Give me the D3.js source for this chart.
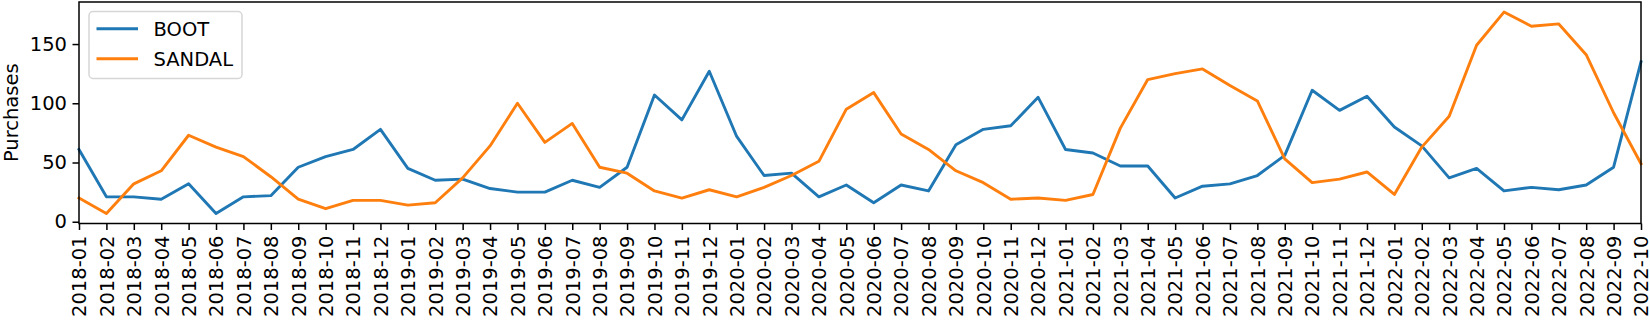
<!DOCTYPE html>
<html>
<head>
<meta charset="utf-8">
<script src="https://cdn.jsdelivr.net/npm/d3@7"></script>
<style>
  body { margin: 0; background: #fff; }
  svg { display: block; font-family: "DejaVu Sans", sans-serif; }
</style>
</head>
<body>
<div id="chart"></div>
<script>
// ====== Monthly purchases: BOOT vs SANDAL ======

const months = [
  '2018-01','2018-02','2018-03','2018-04','2018-05','2018-06','2018-07','2018-08','2018-09','2018-10','2018-11','2018-12',
  '2019-01','2019-02','2019-03','2019-04','2019-05','2019-06','2019-07','2019-08','2019-09','2019-10','2019-11','2019-12',
  '2020-01','2020-02','2020-03','2020-04','2020-05','2020-06','2020-07','2020-08','2020-09','2020-10','2020-11','2020-12',
  '2021-01','2021-02','2021-03','2021-04','2021-05','2021-06','2021-07','2021-08','2021-09','2021-10','2021-11','2021-12',
  '2022-01','2022-02','2022-03','2022-04','2022-05','2022-06','2022-07','2022-08','2022-09','2022-10'
];

const boot = [
  61, 21, 21, 19, 32, 7, 21, 22, 46, 55, 61, 78,
  45, 35, 36, 28, 25, 25, 35, 29, 46, 107, 86, 127,
  72, 39, 41, 21, 31, 16, 31, 26, 65, 78, 81, 105,
  61, 58, 47, 47, 20, 30, 32, 39, 56, 111, 94, 106,
  80, 64, 37, 45, 26, 29, 27, 31, 46, 135
];

const sandal = [
  20, 7, 32, 43, 73, 63, 55, 38, 19, 11, 18, 18,
  14, 16, 37, 64, 100, 67, 83, 46, 41, 26, 20, 27,
  21, 29, 39, 51, 95, 109, 74, 61, 43, 33, 19, 20,
  18, 23, 79, 120, 125, 129, 115, 102, 53, 33, 36, 42,
  23, 63, 89, 149, 177, 165, 167, 141, 92, 49
];

const yTicks = [0, 50, 100, 150];

const seriesNames = ['BOOT', 'SANDAL'];
const colors = ['#1f77b4', '#ff7f0e'];

let width = 1650,
    height = 323,
    margin = {top: 2, right: 9, bottom: 99.5, left: 79},
    fontSize = 19.5;

let series = [boot, sandal];

// Same padding rule matplotlib uses: 5% of the data range
let lo = d3.min(series, s => d3.min(s)),
    hi = d3.max(series, s => d3.max(s)),
    pad = (hi - lo) * 0.05;

let svg = d3.select('#chart').append('svg')
    .attr('width', width)
    .attr('height', height);

let x = d3.scalePoint()
    .domain(months)
    .range([margin.left, width - margin.right]);

let y = d3.scaleLinear()
    .domain([lo - pad, hi + pad])
    .range([height - margin.bottom, margin.top]);

// Lines
let line = d3.line()
    .x((d, i) => x(months[i]))
    .y(d => y(d));

svg.append('g')
    .attr('class', 'lines')
  .selectAll('path')
    .data(series)
  .enter().append('path')
    .attr('d', line)
    .attr('fill', 'none')
    .attr('stroke', (d, i) => colors[i])
    .attr('stroke-width', 2.9)
    .attr('stroke-linejoin', 'round')
    .attr('stroke-linecap', 'square');

// Axes
let xAxis = d3.axisBottom(x)
    .tickSizeInner(6.5)
    .tickSizeOuter(0)
    .tickPadding(5);

let yAxis = d3.axisLeft(y)
    .tickValues(yTicks)
    .tickSizeInner(6.5)
    .tickSizeOuter(0)
    .tickPadding(5.5);

let gx = svg.append('g')
    .attr('transform', 'translate(0,' + (height - margin.bottom) + ')')
    .call(xAxis);

gx.selectAll('text')
    .attr('transform', 'rotate(-90)')
    .attr('x', -12)
    .attr('y', 0)
    .attr('dy', '0.35em')
    .style('text-anchor', 'end');

let gy = svg.append('g')
    .attr('transform', 'translate(' + margin.left + ',0)')
    .call(yAxis);

svg.selectAll('.tick text')
    .attr('fill', '#000')
    .style('font-size', fontSize + 'px')
    .style('font-family', '"DejaVu Sans", sans-serif');

svg.selectAll('.tick line')
    .attr('stroke', '#000')
    .attr('stroke-width', 1.5);

svg.selectAll('.domain').remove();

// Frame
svg.append('rect')
    .attr('x', margin.left)
    .attr('y', margin.top)
    .attr('width', width - margin.left - margin.right)
    .attr('height', height - margin.top - margin.bottom)
    .attr('fill', 'none')
    .attr('stroke', '#000')
    .attr('stroke-width', 1.5);

// Y label
svg.append('text')
    .attr('transform', 'translate(18,' + ((margin.top + height - margin.bottom) / 2) + ') rotate(-90)')
    .attr('text-anchor', 'middle')
    .style('font-size', fontSize + 'px')
    .text('Purchases');

// Legend
let legend = svg.append('g')
    .attr('class', 'legend')
    .attr('transform', 'translate(' + (margin.left + 10) + ',' + (margin.top + 9.5) + ')');

legend.append('rect')
    .attr('width', 153)
    .attr('height', 67)
    .attr('rx', 4)
    .attr('fill', '#fff')
    .attr('fill-opacity', 0.8)
    .attr('stroke', '#d6d6d6')
    .attr('stroke-width', 1.5);

let items = legend.selectAll('.item')
    .data(seriesNames)
  .enter().append('g')
    .attr('class', 'item')
    .attr('transform', (d, i) => 'translate(0,' + (17.2 + i * 30) + ')');

items.append('line')
    .attr('x1', 7.5)
    .attr('x2', 49)
    .attr('stroke', (d, i) => colors[i])
    .attr('stroke-width', 2.9);

items.append('text')
    .attr('x', 64.5)
    .attr('dy', '0.35em')
    .style('font-size', fontSize + 'px')
    .text(d => d);
</script>
</body>
</html>
